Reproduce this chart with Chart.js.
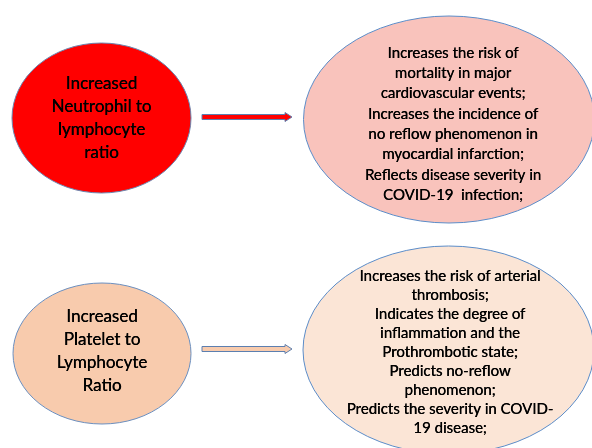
<!DOCTYPE html>
<html>
<head>
<meta charset="utf-8">
<script src="https://cdn.jsdelivr.net/npm/chart.js@4/dist/chart.umd.min.js"></script>
<style>
html,body{margin:0;padding:0;background:#fff;}
#wrap{width:592px;height:448px;position:relative;}
</style>
</head>
<body>
<div id="wrap"><canvas id="c"></canvas></div>
<script>
// Diagram content
const causeLabels = [
  ["Increased", "Neutrophil to", "lymphocyte", "ratio"],
  ["Increased", "Platelet to", "Lymphocyte", "Ratio"]
];
const effectLabels = [
  ["Increases the risk of", "mortality in major", "cardiovascular events;", "Increases the incidence of", "no reflow phenomenon in", "myocardial infarction;", "Reflects disease severity in", "COVID-19  infection;"],
  ["Increases the risk of arterial", "thrombosis;", "Indicates the degree of", "inflammation and the", "Prothrombotic state;", "Predicts no-reflow", "phenomenon;", "Predicts the severity in COVID-", "19 disease;"]
];

// Layout (in data units = px of the 592x448 frame)
const layout = {
  causes: [
    {cx: 101.5, cy: 118, rx: 89.5, ry: 75, fill: "#FF0000", stroke: "#6A86B0", font: 17, lh: 23, ty: 84},
    {cx: 102, cy: 353.5, rx: 89, ry: 70.5, fill: "#F8CBAD", stroke: "#6A8FC0", font: 17, lh: 23, ty: 317}
  ],
  effects: [
    {cx: 449, cy: 119.5, rx: 145.5, ry: 103.5, fill: "#F9C3BC", stroke: "#5B8CC8", font: 15, lh: 20.3, ty: 53, tx: 453},
    {cx: 448.5, cy: 350, rx: 145.5, ry: 104, fill: "#FBE5D6", stroke: "#5B8CC8", font: 15, lh: 19, ty: 276, tx: 450}
  ],
  arrows: [
    {x0: 202, x1: 292, y: 117, fill: "#FF0000", stroke: "#5C7FB0"},
    {x0: 202, x1: 292, y: 349, fill: "#F8CBAD", stroke: "#5C7FB0"}
  ]
};

const FONT = "Lato, 'Open Sans', sans-serif";

const diagramPlugin = {
  id: "diagram",
  afterDatasetsDraw(chart) {
    const ctx = chart.ctx;
    const xs = chart.scales.x, ys = chart.scales.y;
    const px = v => xs.getPixelForValue(v);
    const py = v => ys.getPixelForValue(v);
    function ellipse(e) {
      ctx.save();
      ctx.beginPath();
      ctx.ellipse(px(e.cx), py(e.cy), Math.abs(px(e.cx + e.rx) - px(e.cx)), Math.abs(py(e.cy + e.ry) - py(e.cy)), 0, 0, Math.PI * 2);
      ctx.fillStyle = e.fill;
      ctx.fill();
      ctx.lineWidth = 1;
      ctx.strokeStyle = e.stroke;
      ctx.stroke();
      ctx.restore();
    }
    function text(lines, e) {
      ctx.save();
      ctx.fillStyle = "#000000";
      ctx.font = e.font + "px " + FONT;
      ctx.textAlign = "center";
      ctx.textBaseline = "middle";
      const tx = px(e.tx !== undefined ? e.tx : e.cx);
      lines.forEach((l, i) => {
        const y = py(e.ty + i * e.lh);
        ctx.fillText(l, tx, y);
        ctx.fillText(l, tx + 0.3, y);
      });
      ctx.restore();
    }
    function arrow(a) {
      const x0 = px(a.x0), x1 = px(a.x1), y = py(a.y);
      const sh = 2.5, hh = 4.5, hl = 7;
      ctx.save();
      ctx.beginPath();
      ctx.moveTo(x0, y - sh);
      ctx.lineTo(x1 - hl, y - sh);
      ctx.lineTo(x1 - hl, y - hh);
      ctx.lineTo(x1, y);
      ctx.lineTo(x1 - hl, y + hh);
      ctx.lineTo(x1 - hl, y + sh);
      ctx.lineTo(x0, y + sh);
      ctx.closePath();
      ctx.fillStyle = a.fill;
      ctx.fill();
      ctx.lineWidth = 1;
      ctx.strokeStyle = a.stroke;
      ctx.stroke();
      ctx.restore();
    }
    layout.causes.forEach((e, i) => { ellipse(e); text(causeLabels[i], e); });
    layout.effects.forEach((e, i) => { ellipse(e); text(effectLabels[i], e); });
    layout.arrows.forEach(arrow);
  }
};

new Chart(document.getElementById("c"), {
  type: "scatter",
  data: {
    datasets: [{
      data: layout.causes.concat(layout.effects).map(e => ({x: e.cx, y: e.cy})),
      pointRadius: 0
    }]
  },
  options: {
    responsive: true,
    maintainAspectRatio: false,
    animation: false,
    layout: {padding: 0},
    plugins: {legend: {display: false}, tooltip: {enabled: false}},
    scales: {
      x: {type: "linear", min: 0, max: 592, display: false},
      y: {type: "linear", min: 0, max: 448, reverse: true, display: false}
    }
  },
  plugins: [diagramPlugin]
});
</script>
</body>
</html>
